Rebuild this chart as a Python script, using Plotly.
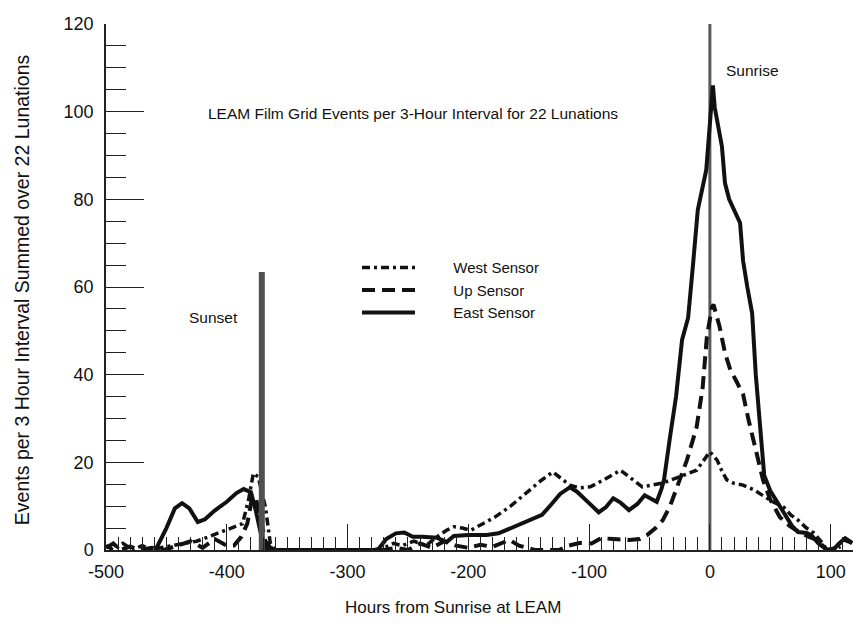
import plotly.graph_objects as go

# Hours from sunrise at LEAM and event counts (summed over 22 lunations)
west_hours = [-500, -494, -486, -478, -470, -462, -455, -445, -435, -425, -418, -410, -402,
              -395, -387, -382, -378, -374, -368, -364, -360, -320, -280, -270, -262, -255,
              -245, -235, -226, -218, -212, -205, -198, -188, -178, -165, -151, -140, -130,
              -122, -116, -108, -99, -88, -80, -74, -66, -56, -48, -39, -25, -11, 0, 6, 10,
              14, 20, 27.5, 36, 44, 52, 61, 67, 73, 80, 86, 92, 97, 104, 111, 118]
west_events = [1, 0, 1.5, 0, 1, 0, 0.5, 1, 1.5, 2, 2.7, 3.5, 4.5,
               5, 6, 11.4, 17.5, 16.7, 9.8, 1.6, 0, 0, 0, 0.5, 1.5, 1,
               2, 1, 3, 4.5, 5.3, 5, 4.5, 6, 7.5, 10, 13.2, 15.8, 17.8,
               16, 14.8, 14.2, 14.4, 16, 17.2, 18.2, 16.5, 14.4, 14.8, 15.3, 16.7, 18.2, 22.4, 20.5, 18,
               16, 15.2, 14.8, 13.8, 12.5, 11, 9.8, 8, 6.8, 5, 3.9, 2, 0, 0.5, 2.3, 1.5]

up_hours = [-500, -494, -488, -480, -472, -462, -452, -440, -430, -420, -410, -400, -394,
            -388, -383, -379, -376, -372, -368, -364, -355, -300, -270, -260, -250, -240,
            -230, -220, -210, -200, -190, -180, -166, -158, -145, -135, -125, -117, -108,
            -98, -90, -80, -67, -58, -52, -45, -39, -33, -28, -19, -11, -6, -2.5, 1.7, 3,
            8, 12.5, 17, 21, 27.5, 32, 36, 40, 44, 50, 58, 66, 75, 82, 89, 97, 103, 108]
up_events = [0.5, 1.5, 0, 0.8, 0, 0.5, 0, 1, 2, 0.5, 2.5, 1, 1,
             3, 6, 12, 12, 7, 2, 0.5, 0, 0, 0, 0.5, 0, 1.5,
             0.5, 2, 1, 0.5, 1.2, 0.7, 2.3, 1, 0, 0, 0, 1, 1.6,
             1.5, 2.7, 2.5, 2.3, 2.5, 3.4, 5, 6.8, 10, 13.7, 20.5, 28, 37, 48.6, 55.4, 56,
             51, 45, 41, 39, 35.5, 29.7, 25, 20, 16, 11.5, 7.5, 5.5, 3.9, 3, 2.3, 0, 0, 0.8]

east_hours = [-459, -450, -443, -437, -431, -424, -418, -410, -400, -392, -386, -380, -376,
              -372, -367, -320, -275, -268, -260, -253, -246, -238, -232, -226, -218, -212,
              -200, -185, -175, -162, -150, -139, -131, -124, -116, -110, -102, -92, -86,
              -80, -74, -67, -60, -54, -48, -44, -40, -38, -33, -28, -23, -18, -14, -10,
              -3, 0, 2.5, 4, 10, 12.5, 16, 25, 27.5, 31, 35, 38, 42, 45, 50, 56, 62, 68,
              73, 80, 84, 90, 97, 103, 107, 112, 118]
east_events = [0, 5, 9.5, 10.7, 9.5, 6.4, 7, 9, 11, 13, 13.9, 13.2, 9,
               4, 0, 0, 0, 2.5, 3.8, 4, 3, 3, 2.8, 2.8, 1.8, 3.2,
               3.4, 3.4, 3.8, 5.3, 6.7, 8, 10.5, 12.8, 14.3, 13.3, 11.2, 8.6, 9.8,
               11.8, 10.8, 9.1, 10.5, 12.5, 11.6, 11, 14, 16, 25.8, 35, 48, 53, 65, 77.6,
               86.7, 96, 106, 101, 92, 83.7, 80, 74.6, 66, 60, 54, 40, 26, 17, 13.5, 10.7, 8, 5.5,
               4.1, 3.9, 3.4, 1.5, 0, 0.3, 1.5, 2.7, 1.6]

# Reference markers: sunset bar and sunrise line
sunset_hour, sunset_height = -371, 63.4
sunrise_hour, sunrise_height = 0, 120

x_tickvals = [-500, -400, -300, -200, -100, 0, 100]
x_ticktext = ["-500", "-400", "-300", "-200", "-100", "0", "100"]
y_tickvals = [0, 20, 40, 60, 80, 100, 120]

FONT = "Liberation Sans, Arial, Helvetica, sans-serif"
INK = "#111111"
GAP = "\u00a0" * 8  # spacing between legend swatch and label

fig = go.Figure()

# Sunrise line sits beneath the curves
fig.add_trace(go.Scatter(x=[sunrise_hour, sunrise_hour], y=[0, sunrise_height], mode="lines",
                         line=dict(color="#5a5a5a", width=3), showlegend=False, hoverinfo="skip"))

fig.add_trace(go.Scatter(x=west_hours, y=west_events, mode="lines", name=GAP + "West Sensor",
                         line=dict(color=INK, width=3.5, dash="8px,4px,3px,4px")))
fig.add_trace(go.Scatter(x=up_hours, y=up_events, mode="lines", name=GAP + "Up Sensor",
                         line=dict(color=INK, width=4, dash="13px,7px")))
fig.add_trace(go.Scatter(x=east_hours, y=east_events, mode="lines", name=GAP + "East Sensor",
                         line=dict(color=INK, width=4)))

# Sunset bar drawn over the curves
fig.add_trace(go.Scatter(x=[sunset_hour, sunset_hour], y=[0, sunset_height], mode="lines",
                         line=dict(color="#505050", width=6), showlegend=False, hoverinfo="skip"))

fig.add_annotation(x=-246, y=99.5, xref="x", yref="y",
                   text="LEAM Film Grid Events per 3-Hour Interval for 22 Lunations",
                   showarrow=False, font=dict(size=15.5, color=INK, family=FONT))
fig.add_annotation(x=-411, y=53, xref="x", yref="y", text="Sunset",
                   showarrow=False, font=dict(size=15.5, color=INK, family=FONT))
fig.add_annotation(x=35, y=109.3, xref="x", yref="y", text="Sunrise",
                   showarrow=False, font=dict(size=15.5, color=INK, family=FONT))

fig.add_annotation(x=0, y=0.494, xref="paper", yref="paper", xshift=-84,
                   xanchor="center", yanchor="middle",
                   text="Events per 3 Hour Interval Summed over 22 Lunations", textangle=-90,
                   showarrow=False, font=dict(size=19.5, color=INK, family=FONT))
fig.add_annotation(x=0.4645, y=0, xref="paper", yref="paper", yshift=-57,
                   xanchor="center", yanchor="middle",
                   text="Hours from Sunrise at LEAM",
                   showarrow=False, font=dict(size=17, color=INK, family=FONT))

fig.update_layout(
    width=853, height=626,
    margin=dict(l=106, r=0, t=24, b=76, autoexpand=False),
    paper_bgcolor="white", plot_bgcolor="white",
    font=dict(family=FONT, color=INK),
    showlegend=True,
    legend=dict(x=0.336, y=0.568, xanchor="left", yanchor="top",
                bgcolor="rgba(0,0,0,0)", font=dict(size=15, family=FONT, color=INK),
                itemwidth=53, tracegroupgap=0),
    xaxis=dict(range=[-500, 118.5], showgrid=False, zeroline=False,
               showline=True, linecolor="#222", linewidth=1.5,
               tickmode="array", tickvals=x_tickvals, ticktext=x_ticktext,
               ticks="inside", ticklen=26, tickwidth=1.3, tickcolor="#222",
               ticklabelstandoff=5,
               tickfont=dict(size=18, color=INK, family=FONT),
               minor=dict(dtick=10, ticks="inside", ticklen=13, tickwidth=1, tickcolor="#222")),
    yaxis=dict(range=[0, 120], showgrid=False, zeroline=False,
               showline=True, linecolor="#222", linewidth=1.5,
               tickmode="array", tickvals=y_tickvals,
               ticks="inside", ticklen=38, tickwidth=1.3, tickcolor="#222",
               ticklabelstandoff=7,
               tickfont=dict(size=18, color=INK, family=FONT),
               minor=dict(dtick=5, ticks="inside", ticklen=20, tickwidth=1, tickcolor="#222")),
)

fig.write_html("out.html")
